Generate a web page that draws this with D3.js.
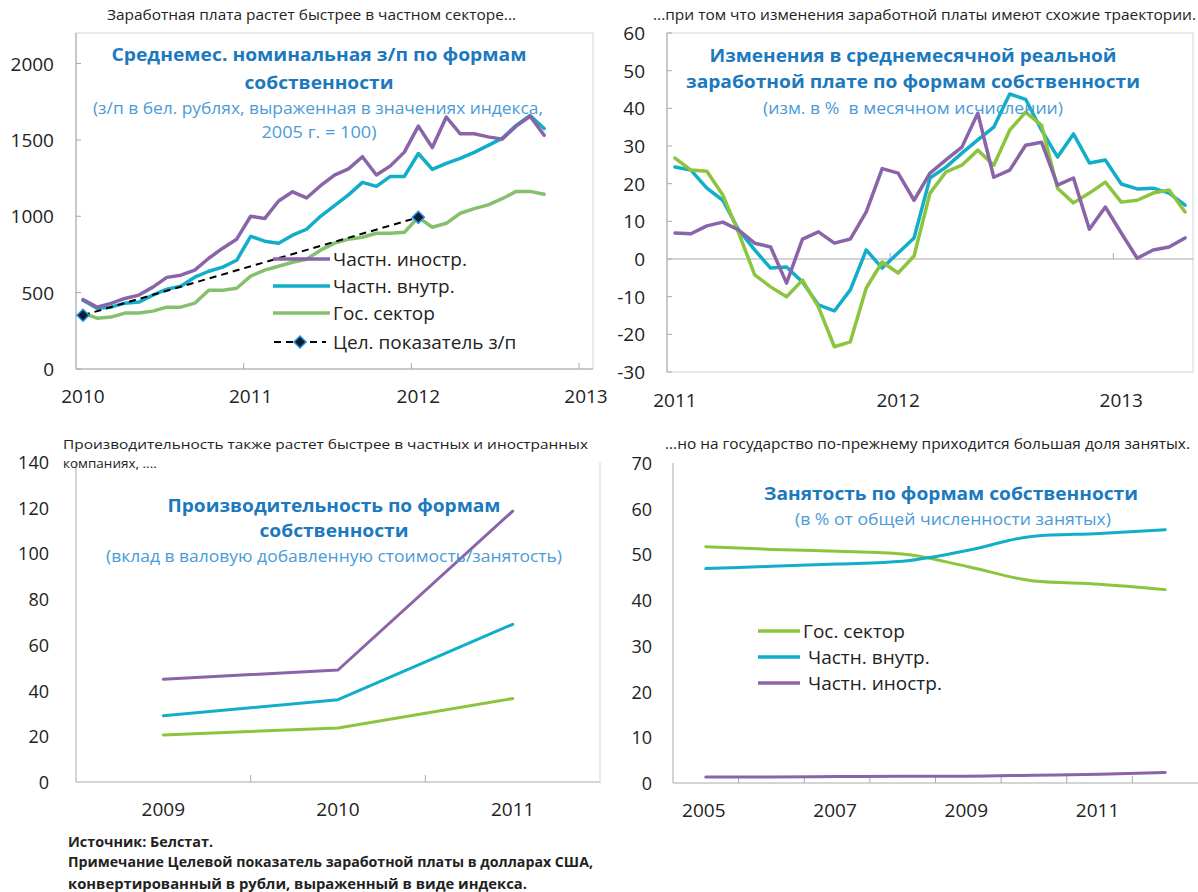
<!DOCTYPE html>
<html><head><meta charset="utf-8">
<script src="https://cdn.jsdelivr.net/npm/d3@7"></script>
<style>
body{margin:0;background:#fff;}
svg{display:block;font-family:"Open Sans","Noto Sans",sans-serif;}
</style></head><body>
<svg id="c" width="1198" height="892"></svg>
<script>
// ================= DATA =================
// Panel 1: nominal wages, monthly categories Jan 2010 .. Jan 2013 (data to Oct 2012)
const wageMonths = d3.timeMonth.range(new Date(2010,0,1), new Date(2013,1,1)).map(d3.timeFormat("%Y-%m"));
const wageYearLabels = ["2010","2011","2012","2013"];
const wageForeign  = [455,405,430,462,484,536,600,614,647,725,791,850,1000,985,1100,1160,1120,1200,1270,1310,1390,1270,1330,1420,1590,1450,1650,1540,1540,1520,1505,1590,1655,1530];
const wageDomestic = [450,398,405,431,438,484,523,542,601,640,667,712,869,837,824,876,915,1000,1070,1140,1222,1196,1261,1261,1411,1307,1346,1379,1418,1464,1510,1595,1660,1575];
const wageState    = [366,333,340,366,366,379,405,405,431,516,516,529,608,647,673,699,719,778,824,850,863,889,889,895,993,928,954,1020,1050,1075,1115,1163,1163,1144];
const wageTargetMonths = ["2010-01","2012-01"];
const wageTargetValues = [352,993];
const wageYTicks = [0,500,1000,1500,2000];

// Panel 2: real wage changes, 33 periods, labels every 14 periods
const realLabels = ["2011","2012","2013"];
const realForeign  = [6.9,6.7,8.8,9.8,7.7,4.2,3.2,-6.4,5.3,7.2,4.2,5.3,12.5,24,22.8,15.6,22.8,26.3,29.7,38.7,21.7,23.6,30.2,31.0,19.6,21.5,7.9,13.8,6.9,0.2,2.4,3.2,5.6];
const realDomestic = [24.4,23.6,18.8,15.6,7.7,2.4,-2.4,-2.1,-6.1,-12.2,-13.8,-8.2,2.4,-2.4,1.6,5.6,21.5,24.4,28.1,31.6,35.0,43.8,42.4,34.2,27.1,33.2,25.5,26.3,19.9,18.6,18.8,17.5,14.3];
const realState    = [26.8,23.6,23.3,17.0,6.9,-4.2,-7.4,-10,-5.6,-12.7,-23.3,-22,-7.7,-0.8,-3.7,0.8,17.5,23.1,24.9,28.9,24.9,34.2,39.0,35.5,18.8,14.9,17.5,20.4,15.1,15.6,17.5,18.3,12.5];
const realYTicks = [-30,-20,-10,0,10,20,30,40,50,60];
const realLabelEvery = 14;

// Panel 3: productivity
const prodYears = ["2009","2010","2011"];
const prodForeign  = [45,49,118.5];
const prodDomestic = [29,36,69];
const prodState    = [20.6,23.6,36.5];
const prodYTicks = [0,20,40,60,80,100,120,140];

// Panel 4: employment shares
const emplYears = ["2005","2006","2007","2008","2009","2010","2011","2012"];
const emplState    = [51.7,51.1,50.7,50.1,47.3,44.2,43.5,42.3];
const emplDomestic = [46.9,47.4,47.9,48.5,50.9,54.0,54.6,55.4];
const emplForeign  = [1.3,1.3,1.4,1.5,1.5,1.7,1.9,2.3];
const emplYTicks = [0,10,20,30,40,50,60,70];

const seriesNames = {foreign:"Частн. иностр.", domestic:"Частн. внутр.", state:"Гос. сектор", target:"Цел. показатель з/п"};

// ================= STYLE =================
const C = {purple:"#8a64a8", cyan:"#12adc8", green1:"#86c06e", green2:"#8cc43e",
  title:"#1c79be", sub:"#4a9bd8", axis:"#a9a9a9", border:"#d4d4d4", text:"#222"};

const svg = d3.select("#c");
svg.append("rect").attr("width",1198).attr("height",892).attr("fill","#fff");

function txt(x,y,s,o={}){
  const t = svg.append("text").attr("x",x).attr("y",y).text(s)
    .attr("font-size",o.size||14).attr("fill",o.fill||C.text)
    .attr("text-anchor",o.anchor||"start")
    .attr("font-weight",o.weight||"normal")
    .style("white-space","pre");
  if(o.family) t.attr("font-family",o.family);
  if(o.len) t.attr("textLength",o.len).attr("lengthAdjust","spacingAndGlyphs");
  if(o.baseline) t.attr("dominant-baseline",o.baseline);
  return t;
}
function hline(x1,x2,y,col,w=1){svg.append("line").attr("x1",x1).attr("x2",x2).attr("y1",y).attr("y2",y).attr("stroke",col).attr("stroke-width",w);}
function vline(x,y1,y2,col,w=1){svg.append("line").attr("x1",x).attr("x2",x).attr("y1",y1).attr("y2",y2).attr("stroke",col).attr("stroke-width",w);}
function drawLine(vals,x,y,col,w,curve){
  svg.append("path").datum(vals)
    .attr("d",d3.line().x((d,i)=>x(i)).y(d=>y(d)).curve(curve||d3.curveLinear))
    .attr("fill","none").attr("stroke",col).attr("stroke-width",w)
    .attr("stroke-linejoin","round").attr("stroke-linecap","round");
}
function diamond(cx,cy,r){
  svg.append("path").attr("d",`M${cx},${cy-r}L${cx+r},${cy}L${cx},${cy+r}L${cx-r},${cy}Z`)
    .attr("fill","#0d1d33").attr("stroke","#2a8fe0").attr("stroke-width",1.5);
}
const TS = 18.5; // title size
const SS = 17;   // subtitle size

// ================= PANEL 1 =================
{
  const x = d3.scaleLinear().domain([-0.5, wageMonths.length-0.5]).range([76,593]);
  const y = d3.scaleLinear().domain([0,2200]).range([369,33]);
  svg.append("rect").attr("x",76).attr("y",33).attr("width",593-76).attr("height",369-33)
    .attr("fill","none").attr("stroke",C.border);
  vline(76,33,369,C.axis); hline(76,593,369,C.axis);
  wageYTicks.forEach(v=>{
    hline(76,81,y(v),C.axis);
    txt(54,y(v),String(v),{size:19,anchor:"end",baseline:"central"});
  });
  wageYearLabels.forEach((lab,k)=>{
    const ci = k*12;
    if(k>0) vline(x(ci-0.5),369,363,C.axis);
    txt(x(ci),403,lab,{size:19,anchor:"middle"});
  });
  drawLine(wageState,x,y,C.green1,3.5);
  drawLine(wageDomestic,x,y,C.cyan,3.5);
  drawLine(wageForeign,x,y,C.purple,3.5);
  const tIdx = wageTargetMonths.map(m=>wageMonths.indexOf(m));
  svg.append("path").datum(wageTargetValues)
    .attr("d",d3.line().x((d,i)=>x(tIdx[i])).y(d=>y(d)))
    .attr("fill","none").attr("stroke","#000").attr("stroke-width",2).attr("stroke-dasharray","7,5");
  wageTargetValues.forEach((v,i)=>diamond(x(tIdx[i]),y(v),6));

  // titles
  txt(319,61,"Среднемес. номинальная з/п по формам",{size:TS,weight:"bold",fill:C.title,anchor:"middle",len:415});
  txt(319,89,"собственности",{size:TS,weight:"bold",fill:C.title,anchor:"middle",len:149});
  txt(318,114,"(з/п в бел. рублях, выраженная в значениях индекса,",{size:SS,fill:C.sub,anchor:"middle",len:450});
  txt(319,138,"2005 г. = 100)",{size:SS,fill:C.sub,anchor:"middle",len:115});
  txt(107,20,"Заработная плата растет быстрее в частном секторе...",{size:14,len:409});

  // legend
  const leg = [[seriesNames.foreign,C.purple],[seriesNames.domestic,C.cyan],[seriesNames.state,C.green1]];
  const ly = [259,286,313];
  leg.forEach((d,i)=>{
    hline(273,330,ly[i],d[1],3.5);
    txt(333,ly[i],d[0],{size:19,baseline:"central"});
  });
  svg.append("line").attr("x1",274).attr("x2",326).attr("y1",342).attr("y2",342)
    .attr("stroke","#000").attr("stroke-width",2).attr("stroke-dasharray","7,5");
  diamond(300,342,6);
  txt(333,342,seriesNames.target,{size:19,baseline:"central"});
}

// ================= PANEL 2 =================
{
  const x = d3.scaleLinear().domain([-0.5, realForeign.length-0.5]).range([667,1193]);
  const y = d3.scaleLinear().domain([-30,60]).range([372,33]);
  svg.append("rect").attr("x",667).attr("y",33).attr("width",1193-667).attr("height",372-33)
    .attr("fill","none").attr("stroke",C.border);
  vline(667,33,372,C.axis);
  hline(667,1193,y(0),C.axis);
  realYTicks.forEach(v=>{
    hline(667,672,y(v),C.axis);
    txt(645,y(v),String(v),{size:19,anchor:"end",baseline:"central"});
  });
  realLabels.forEach((lab,k)=>{
    const ci = k*realLabelEvery;
    if(k>0) vline(x(ci-0.5),y(0),y(0)-6,C.axis);
    txt(x(ci),407,lab,{size:19,anchor:"middle"});
  });
  drawLine(realDomestic,x,y,C.cyan,3.5);
  drawLine(realState,x,y,C.green2,3.5);
  drawLine(realForeign,x,y,C.purple,3.5);

  txt(913,62,"Изменения в среднемесячной реальной",{size:TS,weight:"bold",fill:C.title,anchor:"middle",len:407});
  txt(913,88,"заработной плате по формам собственности",{size:TS,weight:"bold",fill:C.title,anchor:"middle",len:454});
  txt(913,114,"(изм. в %\u00a0\u00a0в месячном исчислении)",{size:SS,fill:C.sub,anchor:"middle",len:300});
  txt(653,20,"...при том что изменения заработной платы имеют схожие траектории.",{size:14,len:543});
}

// ================= PANEL 3 =================
{
  const x = d3.scaleLinear().domain([-0.5, prodYears.length-0.5]).range([76,600]);
  const y = d3.scaleLinear().domain([0,140]).range([782,462]);
  vline(76,462,782,C.axis); hline(76,600,782,C.axis);
  vline(600,462,783,C.border);
  prodYTicks.forEach(v=>txt(49,y(v),String(v),{size:18,anchor:"end",baseline:"central"}));
  prodYears.forEach((lab,i)=>{
    if(i>0) vline(x(i-0.5),782,775,C.axis);
    txt(x(i),816,lab,{size:19,anchor:"middle"});
  });
  drawLine(prodState,x,y,C.green2,3);
  drawLine(prodDomestic,x,y,C.cyan,3);
  drawLine(prodForeign,x,y,C.purple,3);

  txt(334,512,"Производительность по формам",{size:TS,weight:"bold",fill:C.title,anchor:"middle",len:333});
  txt(334,537,"собственности",{size:TS,weight:"bold",fill:C.title,anchor:"middle",len:149});
  txt(334,562,"(вклад в валовую добавленную стоимость/занятость)",{size:SS,fill:C.sub,anchor:"middle",len:456});
  txt(63,449,"Производительность также растет быстрее в частных и иностранных",{size:13.5,len:525});
  txt(63,468,"компаниях, ....",{size:13.5});

  txt(68,847,"Источник: Белстат.",{size:14.5,weight:"bold",len:145});
  txt(68,867,"Примечание Целевой показатель заработной платы в долларах США,",{size:14.5,weight:"bold",len:525});
  txt(68,889,"конвертированный в рубли, выраженный в виде индекса.",{size:14.5,weight:"bold",len:459});
}

// ================= PANEL 4 =================
{
  const x = d3.scaleLinear().domain([-0.5, emplYears.length-0.5]).range([673,1198]);
  const y = d3.scaleLinear().domain([0,70]).range([783,463]);
  vline(673,463,783,C.axis); hline(673,1198,783,C.axis);
  emplYTicks.forEach(v=>txt(652,y(v),String(v),{size:18,anchor:"end",baseline:"central"}));
  emplYears.forEach((lab,i)=>{
    if(i>0) vline(x(i-0.5),783,776,C.axis);
    if(i%2===0) txt(x(i)-2,817,lab,{size:19,anchor:"middle"});
  });
  drawLine(emplState,x,y,C.green2,3,d3.curveMonotoneX);
  drawLine(emplDomestic,x,y,C.cyan,3,d3.curveMonotoneX);
  drawLine(emplForeign,x,y,C.purple,3,d3.curveMonotoneX);

  txt(951,500,"Занятость по формам собственности",{size:TS,weight:"bold",fill:C.title,anchor:"middle",len:374});
  txt(953,525,"(в % от общей численности занятых)",{size:SS,fill:C.sub,anchor:"middle",len:316});
  txt(665,449,"...но на государство по-прежнему приходится большая доля занятых.",{size:14,len:525});

  const leg = [[seriesNames.state,C.green2,803],[seriesNames.domestic,C.cyan,808],[seriesNames.foreign,C.purple,808]];
  const ly = [631,657,683];
  leg.forEach((d,i)=>{
    hline(758,800,ly[i],d[1],3.5);
    txt(d[2],ly[i],d[0],{size:19,baseline:"central"});
  });
}
</script>
</body></html>
